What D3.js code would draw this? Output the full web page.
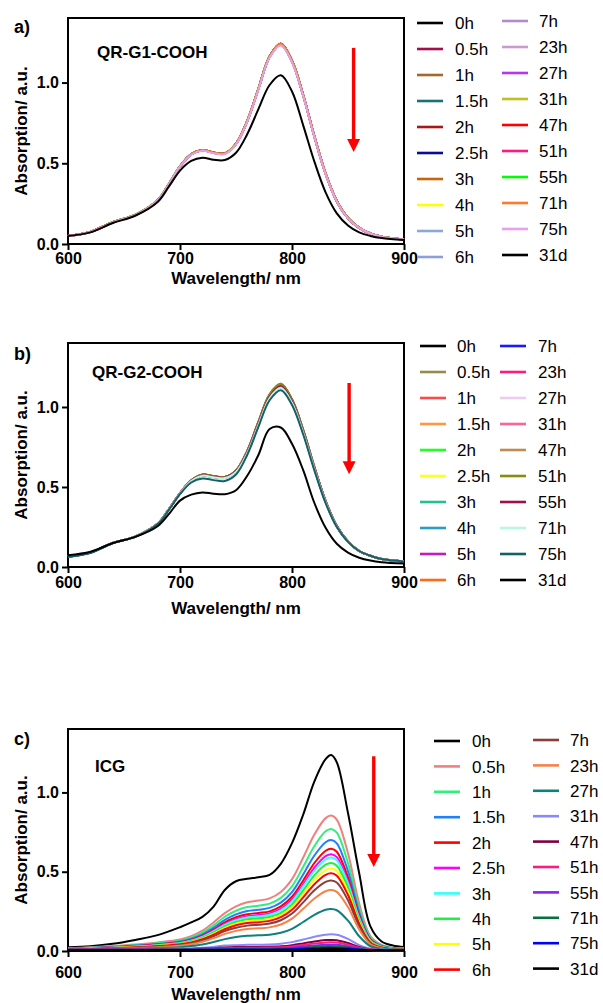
<!DOCTYPE html>
<meta charset="utf-8">
<style>
  body { margin: 0; background: #fff; }
  text { font-family: "Liberation Sans", Arial, Helvetica, sans-serif; fill: #000; }
  .tick text { font-size: 16px; font-weight: bold; }
  .tick line { stroke: #000; stroke-width: 2px; }
  .frame { fill: none; stroke: #000; stroke-width: 2px; }
  .axis-title { font-size: 17px; font-weight: bold; }
  .panel-label { font-size: 18px; font-weight: bold; }
  .panel-title { font-size: 17px; font-weight: bold; }
  .legend text { font-size: 17px; }
  .curve { fill: none; stroke-width: 2px; }
</style>
<svg width="603" height="1003"></svg>
<script src="https://d3js.org/d3.v7.min.js"></script>
<script>

  // time points, shared by the three legends
  var timeLabels = ["0h", "0.5h", "1h", "1.5h", "2h", "2.5h", "3h", "4h", "5h", "6h",
                    "7h", "23h", "27h", "31h", "47h", "51h", "55h", "71h", "75h", "31d"];

  var xTicks = [600, 700, 800, 900];
  var yTicks = [0, 0.5, 1.0];

  // wavelengths (nm) the spectra were read at
  var wlAB = [600, 620, 640, 660, 680, 690, 700, 710, 720, 730, 740, 750, 760, 770, 780, 790, 800, 810, 820, 830, 840, 850, 860, 870, 880, 900];
  var wlC = [600, 620, 640, 660, 680, 700, 710, 720, 730, 740, 750, 760, 770, 780, 790, 800, 810, 820, 830, 835, 840, 850, 860, 870, 880, 890, 900];

  // a) QR-G1-COOH, one row per time point
  var absA = [
    [.05,.074,.134,.18,.27,.37,.48,.556,.581,.566,.561,.621,.762,.962,1.162,1.24,1.135,.922,.666,.436,.266,.16,.10,.065,.045,.028],
    [.049,.074,.135,.181,.271,.371,.481,.557,.582,.567,.562,.622,.763,.963,1.163,1.242,1.136,.923,.667,.437,.266,.161,.10,.065,.045,.028],
    [.05,.075,.136,.181,.27,.37,.48,.556,.581,.566,.561,.621,.761,.961,1.161,1.238,1.133,.921,.666,.436,.266,.16,.10,.065,.045,.028],
    [.05,.075,.135,.18,.27,.37,.48,.555,.58,.565,.56,.62,.76,.96,1.16,1.236,1.131,.92,.665,.435,.265,.16,.10,.065,.045,.028],
    [.05,.075,.135,.18,.27,.37,.48,.556,.58,.565,.56,.62,.761,.961,1.161,1.239,1.134,.921,.666,.436,.266,.16,.10,.065,.045,.028],
    [.05,.075,.135,.18,.27,.37,.48,.555,.58,.565,.56,.62,.76,.96,1.16,1.237,1.132,.92,.665,.435,.265,.16,.10,.065,.045,.028],
    [.05,.075,.135,.18,.27,.37,.48,.556,.581,.566,.561,.621,.761,.961,1.161,1.24,1.135,.922,.667,.437,.266,.161,.10,.065,.045,.028],
    [.05,.075,.135,.18,.269,.369,.479,.555,.58,.565,.56,.62,.76,.96,1.16,1.236,1.131,.92,.665,.435,.265,.16,.10,.065,.045,.028],
    [.05,.075,.135,.18,.27,.37,.48,.555,.58,.565,.56,.62,.76,.96,1.16,1.235,1.13,.92,.665,.435,.265,.16,.10,.065,.045,.028],
    [.05,.075,.135,.18,.27,.37,.48,.555,.579,.564,.559,.619,.759,.959,1.159,1.234,1.129,.919,.664,.434,.265,.16,.10,.065,.045,.028],
    [.05,.075,.135,.18,.27,.37,.48,.555,.58,.565,.56,.62,.76,.96,1.16,1.236,1.131,.92,.665,.435,.265,.16,.10,.065,.045,.028],
    [.05,.075,.135,.18,.27,.37,.48,.554,.579,.564,.559,.619,.759,.959,1.158,1.233,1.128,.918,.664,.434,.264,.16,.10,.065,.045,.028],
    [.05,.075,.135,.18,.27,.37,.48,.555,.58,.565,.56,.62,.76,.96,1.16,1.235,1.13,.92,.665,.435,.265,.16,.10,.065,.045,.028],
    [.05,.075,.135,.18,.27,.37,.48,.555,.58,.565,.56,.62,.76,.96,1.159,1.234,1.129,.919,.664,.434,.265,.16,.10,.065,.045,.028],
    [.05,.075,.135,.181,.271,.371,.481,.557,.582,.567,.562,.622,.762,.962,1.162,1.24,1.135,.923,.667,.437,.266,.161,.10,.065,.045,.028],
    [.05,.075,.135,.18,.27,.37,.48,.556,.581,.566,.561,.621,.761,.961,1.161,1.238,1.133,.921,.666,.436,.266,.16,.10,.065,.045,.028],
    [.05,.075,.136,.182,.273,.373,.483,.557,.581,.566,.561,.622,.763,.964,1.163,1.241,1.135,.922,.666,.436,.266,.161,.10,.065,.045,.028],
    [.05,.075,.135,.18,.27,.37,.48,.556,.581,.566,.561,.621,.761,.961,1.161,1.239,1.134,.922,.667,.437,.266,.161,.10,.065,.045,.028],
    [.049,.074,.134,.179,.269,.369,.479,.553,.577,.562,.557,.617,.757,.956,1.155,1.229,1.125,.916,.662,.433,.264,.159,.10,.065,.045,.028],
    [.05,.072,.13,.175,.26,.355,.455,.515,.535,.522,.52,.565,.68,.835,.985,1.045,.945,.735,.51,.32,.19,.115,.072,.05,.037,.025]
  ];

  // b) QR-G2-COOH
  var absB = [
    [.064,.09,.15,.19,.27,.36,.46,.541,.577,.567,.562,.602,.723,.904,1.075,1.14,1.045,.854,.623,.412,.256,.16,.10,.07,.05,.035],
    [.064,.09,.15,.19,.27,.36,.461,.542,.578,.568,.563,.604,.726,.908,1.08,1.145,1.049,.858,.626,.414,.257,.161,.10,.07,.05,.035],
    [.065,.09,.15,.19,.27,.36,.46,.54,.575,.565,.56,.60,.72,.90,1.07,1.135,1.04,.85,.62,.41,.255,.16,.10,.07,.05,.035],
    [.065,.09,.15,.19,.27,.36,.46,.539,.574,.564,.559,.598,.717,.896,1.065,1.13,1.036,.846,.617,.408,.254,.159,.10,.07,.05,.035],
    [.065,.09,.15,.19,.27,.36,.46,.539,.574,.564,.559,.598,.717,.896,1.065,1.13,1.036,.846,.617,.408,.254,.159,.10,.07,.05,.035],
    [.065,.09,.15,.19,.27,.36,.46,.539,.574,.564,.559,.598,.717,.896,1.065,1.13,1.036,.846,.617,.408,.254,.159,.10,.07,.05,.035],
    [.065,.09,.15,.19,.27,.36,.459,.538,.572,.562,.557,.596,.714,.892,1.06,1.125,1.031,.843,.615,.406,.253,.158,.10,.07,.05,.035],
    [.065,.09,.15,.19,.27,.36,.459,.537,.571,.561,.556,.594,.711,.888,1.056,1.12,1.026,.839,.612,.405,.252,.158,.10,.07,.05,.035],
    [.065,.09,.15,.19,.27,.36,.46,.539,.574,.564,.559,.598,.717,.896,1.065,1.13,1.036,.846,.617,.408,.254,.159,.10,.07,.05,.035],
    [.065,.09,.15,.19,.27,.36,.459,.538,.572,.562,.557,.596,.714,.892,1.06,1.125,1.031,.843,.615,.406,.253,.158,.10,.07,.05,.035],
    [.064,.09,.15,.19,.27,.36,.46,.541,.577,.567,.562,.602,.723,.904,1.075,1.14,1.045,.854,.623,.412,.256,.16,.10,.07,.05,.035],
    [.065,.09,.15,.19,.27,.36,.46,.54,.575,.565,.56,.60,.72,.90,1.07,1.135,1.04,.85,.62,.41,.255,.16,.10,.07,.05,.035],
    [.065,.09,.15,.19,.27,.36,.459,.538,.572,.562,.557,.596,.714,.892,1.06,1.125,1.031,.843,.615,.406,.253,.158,.10,.07,.05,.035],
    [.065,.09,.15,.19,.27,.36,.46,.539,.574,.564,.559,.598,.717,.896,1.065,1.13,1.036,.846,.617,.408,.254,.159,.10,.07,.05,.035],
    [.065,.09,.15,.19,.27,.36,.459,.538,.572,.562,.557,.596,.714,.892,1.06,1.125,1.031,.843,.615,.406,.253,.158,.10,.07,.05,.035],
    [.064,.09,.15,.19,.27,.36,.461,.542,.578,.568,.563,.604,.726,.908,1.08,1.145,1.049,.858,.626,.414,.257,.161,.10,.07,.05,.035],
    [.065,.09,.15,.19,.27,.36,.46,.539,.574,.564,.559,.598,.717,.896,1.065,1.13,1.036,.846,.617,.408,.254,.159,.10,.07,.05,.035],
    [.065,.09,.15,.19,.27,.36,.459,.537,.571,.561,.556,.594,.711,.888,1.056,1.12,1.026,.839,.612,.405,.252,.158,.10,.07,.05,.035],
    [.063,.088,.148,.188,.268,.357,.455,.528,.553,.543,.538,.578,.70,.876,1.042,1.105,1.013,.828,.604,.40,.25,.157,.10,.07,.05,.035],
    [.073,.095,.15,.188,.255,.33,.415,.452,.466,.458,.455,.48,.57,.70,.862,.872,.77,.605,.40,.245,.145,.09,.058,.04,.03,.022]
  ];

  // c) ICG
  var absC = [
    [.023,.03,.045,.07,.10,.15,.18,.215,.28,.385,.44,.455,.465,.48,.55,.68,.86,1.07,1.21,1.236,1.19,.87,.49,.155,.06,.035,.025],
    [.017,.023,.031,.041,.054,.073,.094,.128,.18,.239,.282,.308,.318,.332,.372,.453,.59,.735,.838,.855,.829,.616,.30,.094,.038,.021,.017],
    [.015,.021,.028,.037,.049,.065,.085,.116,.162,.216,.254,.277,.286,.299,.335,.408,.531,.662,.755,.77,.747,.554,.27,.085,.035,.019,.015],
    [.014,.019,.025,.034,.044,.06,.077,.105,.147,.196,.231,.252,.26,.272,.305,.371,.483,.602,.686,.70,.679,.504,.245,.077,.032,.018,.014],
    [.013,.017,.023,.031,.041,.055,.071,.097,.135,.181,.213,.232,.24,.25,.281,.342,.445,.555,.632,.645,.626,.464,.226,.071,.029,.016,.013],
    [.012,.016,.022,.029,.038,.052,.067,.092,.128,.171,.201,.22,.227,.237,.265,.323,.421,.525,.598,.61,.592,.439,.214,.067,.027,.015,.012],
    [.012,.016,.021,.028,.037,.05,.065,.089,.124,.165,.195,.212,.219,.229,.257,.313,.407,.507,.578,.59,.572,.425,.207,.065,.027,.015,.012],
    [.011,.015,.02,.027,.035,.047,.061,.083,.117,.155,.183,.20,.206,.215,.241,.294,.383,.477,.544,.555,.538,.40,.194,.061,.025,.014,.011],
    [.01,.014,.019,.025,.033,.044,.057,.078,.109,.146,.172,.187,.193,.202,.226,.276,.359,.447,.51,.52,.504,.374,.182,.057,.023,.013,.01],
    [.01,.013,.018,.024,.031,.042,.054,.074,.103,.137,.162,.176,.182,.19,.213,.26,.338,.421,.48,.49,.475,.353,.172,.054,.022,.012,.01],
    [.01,.012,.016,.021,.028,.038,.049,.067,.093,.125,.147,.16,.166,.173,.194,.236,.307,.383,.436,.445,.432,.32,.156,.049,.02,.011,.009],
    [.01,.011,.014,.019,.024,.033,.042,.058,.081,.108,.127,.139,.143,.149,.167,.204,.266,.331,.377,.385,.373,.277,.135,.042,.018,.01,.008],
    [.012,.013,.014,.016,.019,.024,.031,.041,.057,.075,.088,.096,.099,.103,.115,.14,.183,.228,.26,.265,.257,.191,.093,.03,.014,.01,.008],
    [.01,.011,.012,.013,.014,.015,.017,.02,.026,.034,.037,.039,.04,.041,.046,.056,.072,.09,.103,.105,.102,.076,.037,.014,.009,.007,.006],
    [.01,.01,.011,.011,.012,.012,.013,.015,.018,.022,.025,.026,.026,.027,.03,.037,.048,.06,.069,.07,.068,.05,.025,.01,.007,.006,.005],
    [.009,.009,.01,.01,.011,.011,.012,.013,.015,.018,.02,.021,.021,.022,.024,.029,.038,.047,.054,.055,.053,.04,.02,.009,.006,.005,.005],
    [.008,.008,.009,.009,.009,.01,.01,.011,.012,.014,.015,.015,.016,.016,.018,.021,.028,.034,.039,.04,.039,.029,.015,.007,.005,.004,.004],
    [.008,.008,.008,.008,.009,.009,.009,.01,.01,.011,.012,.012,.012,.013,.014,.016,.021,.026,.029,.03,.029,.022,.012,.006,.005,.004,.004],
    [.006,.006,.006,.007,.007,.007,.008,.008,.008,.009,.009,.009,.009,.01,.01,.012,.014,.017,.02,.02,.019,.015,.009,.005,.004,.003,.003],
    [.005,.005,.005,.005,.005,.005,.006,.006,.006,.007,.007,.007,.007,.007,.008,.008,.009,.011,.012,.012,.012,.01,.007,.005,.004,.003,.003]
  ];

  // line colours, in legend order
  var colorsA = ["#000000", "#a0104c", "#a06a2c", "#1c7077", "#a01b1b", "#0c0c8c", "#c8640e", "#ffff00", "#8ca8d8", "#8c9fd9",
                 "#b38bc8", "#c99acb", "#b536f2", "#c3be1d", "#ff0000", "#ff1a80", "#00ff00", "#ff7a2a", "#e6a0ee", "#000000"];
  var colorsB = ["#000000", "#968b4d", "#fa4a4a", "#ff9940", "#22ff22", "#ffff22", "#22c28a", "#2a9dc3", "#c21bc2", "#ff6a1a",
                 "#1a1aff", "#ff1a80", "#eccdf0", "#fa6496", "#c08a52", "#8b8b14", "#a01050", "#b8f8e0", "#155f6b", "#000000"];
  var colorsC = ["#000000", "#f08080", "#2ef07a", "#1e7fff", "#ff0000", "#ff00ff", "#33ffff", "#22ee44", "#ffff00", "#ff0000",
                 "#8b3c3c", "#f4834a", "#0f7f7f", "#8888ff", "#800040", "#ff1a7f", "#8822ee", "#0a7040", "#0000ff", "#000000"];

  var panels = [
    { tag: "a)", title: "QR-G1-COOH", wl: wlAB, rows: absA, colors: colorsA,
      top: 18, bottom: 244, tagY: 33, titleX: 97, titleY: 58, pad: 3, xTitleY: 284,
      leg: { x: [417, 502], tx: [455, 539], y0: [23, 21], dy: 26 }, arrow: [855, 1.215, 0.57] },
    { tag: "b)", title: "QR-G2-COOH", wl: wlAB, rows: absB, colors: colorsB,
      top: 343, bottom: 567, tagY: 360, titleX: 92, titleY: 378, pad: 4, xTitleY: 614,
      leg: { x: [420, 500], tx: [457, 538], y0: [346, 346], dy: 26 }, arrow: [851, 1.15, 0.58] },
    { tag: "c)", title: "ICG", wl: wlC, rows: absC, colors: colorsC,
      top: 729, bottom: 951, tagY: 745, titleX: 95, titleY: 772, pad: 10, xTitleY: 1000,
      leg: { x: [434, 533], tx: [472, 570], y0: [741, 740], dy: 25.4 }, arrow: [873, 1.228, 0.53] }
  ];

  var svg = d3.select("svg"),
      left = 68, right = 404;

  panels.forEach(function(p) {
    var x = d3.scaleLinear().domain([600, 900]).range([left, right]);
    var y = d3.scaleLinear().domain([0, 1.4]).range([p.bottom, p.top]);
    var g = svg.append("g");

    g.append("rect").attr("class", "frame")
        .attr("x", left).attr("y", p.top)
        .attr("width", right - left).attr("height", p.bottom - p.top);

    g.append("g").attr("transform", "translate(0," + p.bottom + ")")
        .call(d3.axisBottom(x).tickValues(xTicks).tickSize(6).tickPadding(p.pad).tickSizeOuter(0))
        .call(function(a) { a.select(".domain").remove(); });

    g.append("g").attr("transform", "translate(" + left + ",0)")
        .call(d3.axisLeft(y).tickValues(yTicks).tickFormat(d3.format(".1f")).tickSize(6).tickPadding(3).tickSizeOuter(0))
        .call(function(a) { a.select(".domain").remove(); });

    var line = d3.line()
        .x(function(d, i) { return x(p.wl[i]); })
        .y(function(d) { return y(d); })
        .curve(d3.curveCatmullRom.alpha(0.5));

    g.selectAll(".curve").data(p.rows).enter().append("path")
        .attr("class", "curve")
        .attr("stroke", function(d, i) { return p.colors[i]; })
        .attr("stroke-width", function(d, i) { return i === 0 || i === 19 ? 2.4 : 2; })
        .attr("d", line);

    // red arrow
    var ax = x(p.arrow[0]), ay0 = y(p.arrow[1]), ay1 = y(p.arrow[2]);
    g.append("line").attr("x1", ax).attr("x2", ax).attr("y1", ay0).attr("y2", ay1 - 12)
        .attr("stroke", "#ff0000").attr("stroke-width", 3.4);
    g.append("path").attr("fill", "#ff0000")
        .attr("d", "M" + (ax - 6.5) + "," + (ay1 - 13) + "L" + (ax + 6.5) + "," + (ay1 - 13) + "L" + ax + "," + ay1 + "Z");

    g.append("text").attr("class", "panel-label").attr("x", 14).attr("y", p.tagY).text(p.tag);
    g.append("text").attr("class", "panel-title").attr("x", p.titleX).attr("y", p.titleY).text(p.title);

    g.append("text").attr("class", "axis-title").attr("text-anchor", "middle")
        .attr("x", (left + right) / 2).attr("y", p.xTitleY).text("Wavelength/ nm");
    g.append("text").attr("class", "axis-title").attr("text-anchor", "middle")
        .attr("transform", "translate(27," + (p.top + p.bottom) / 2 + ") rotate(-90)")
        .text("Absorption/ a.u.");

    var leg = g.append("g").attr("class", "legend");
    timeLabels.forEach(function(t, i) {
      var c = i < 10 ? 0 : 1, r = i % 10, ly = p.leg.y0[c] + r * p.leg.dy;
      leg.append("line").attr("x1", p.leg.x[c]).attr("x2", p.leg.x[c] + 26)
          .attr("y1", ly).attr("y2", ly)
          .attr("stroke", p.colors[i]).attr("stroke-width", 2.6);
      leg.append("text").attr("x", p.leg.tx[c]).attr("y", ly).attr("dy", "0.36em").text(t);
    });
  });

</script>
